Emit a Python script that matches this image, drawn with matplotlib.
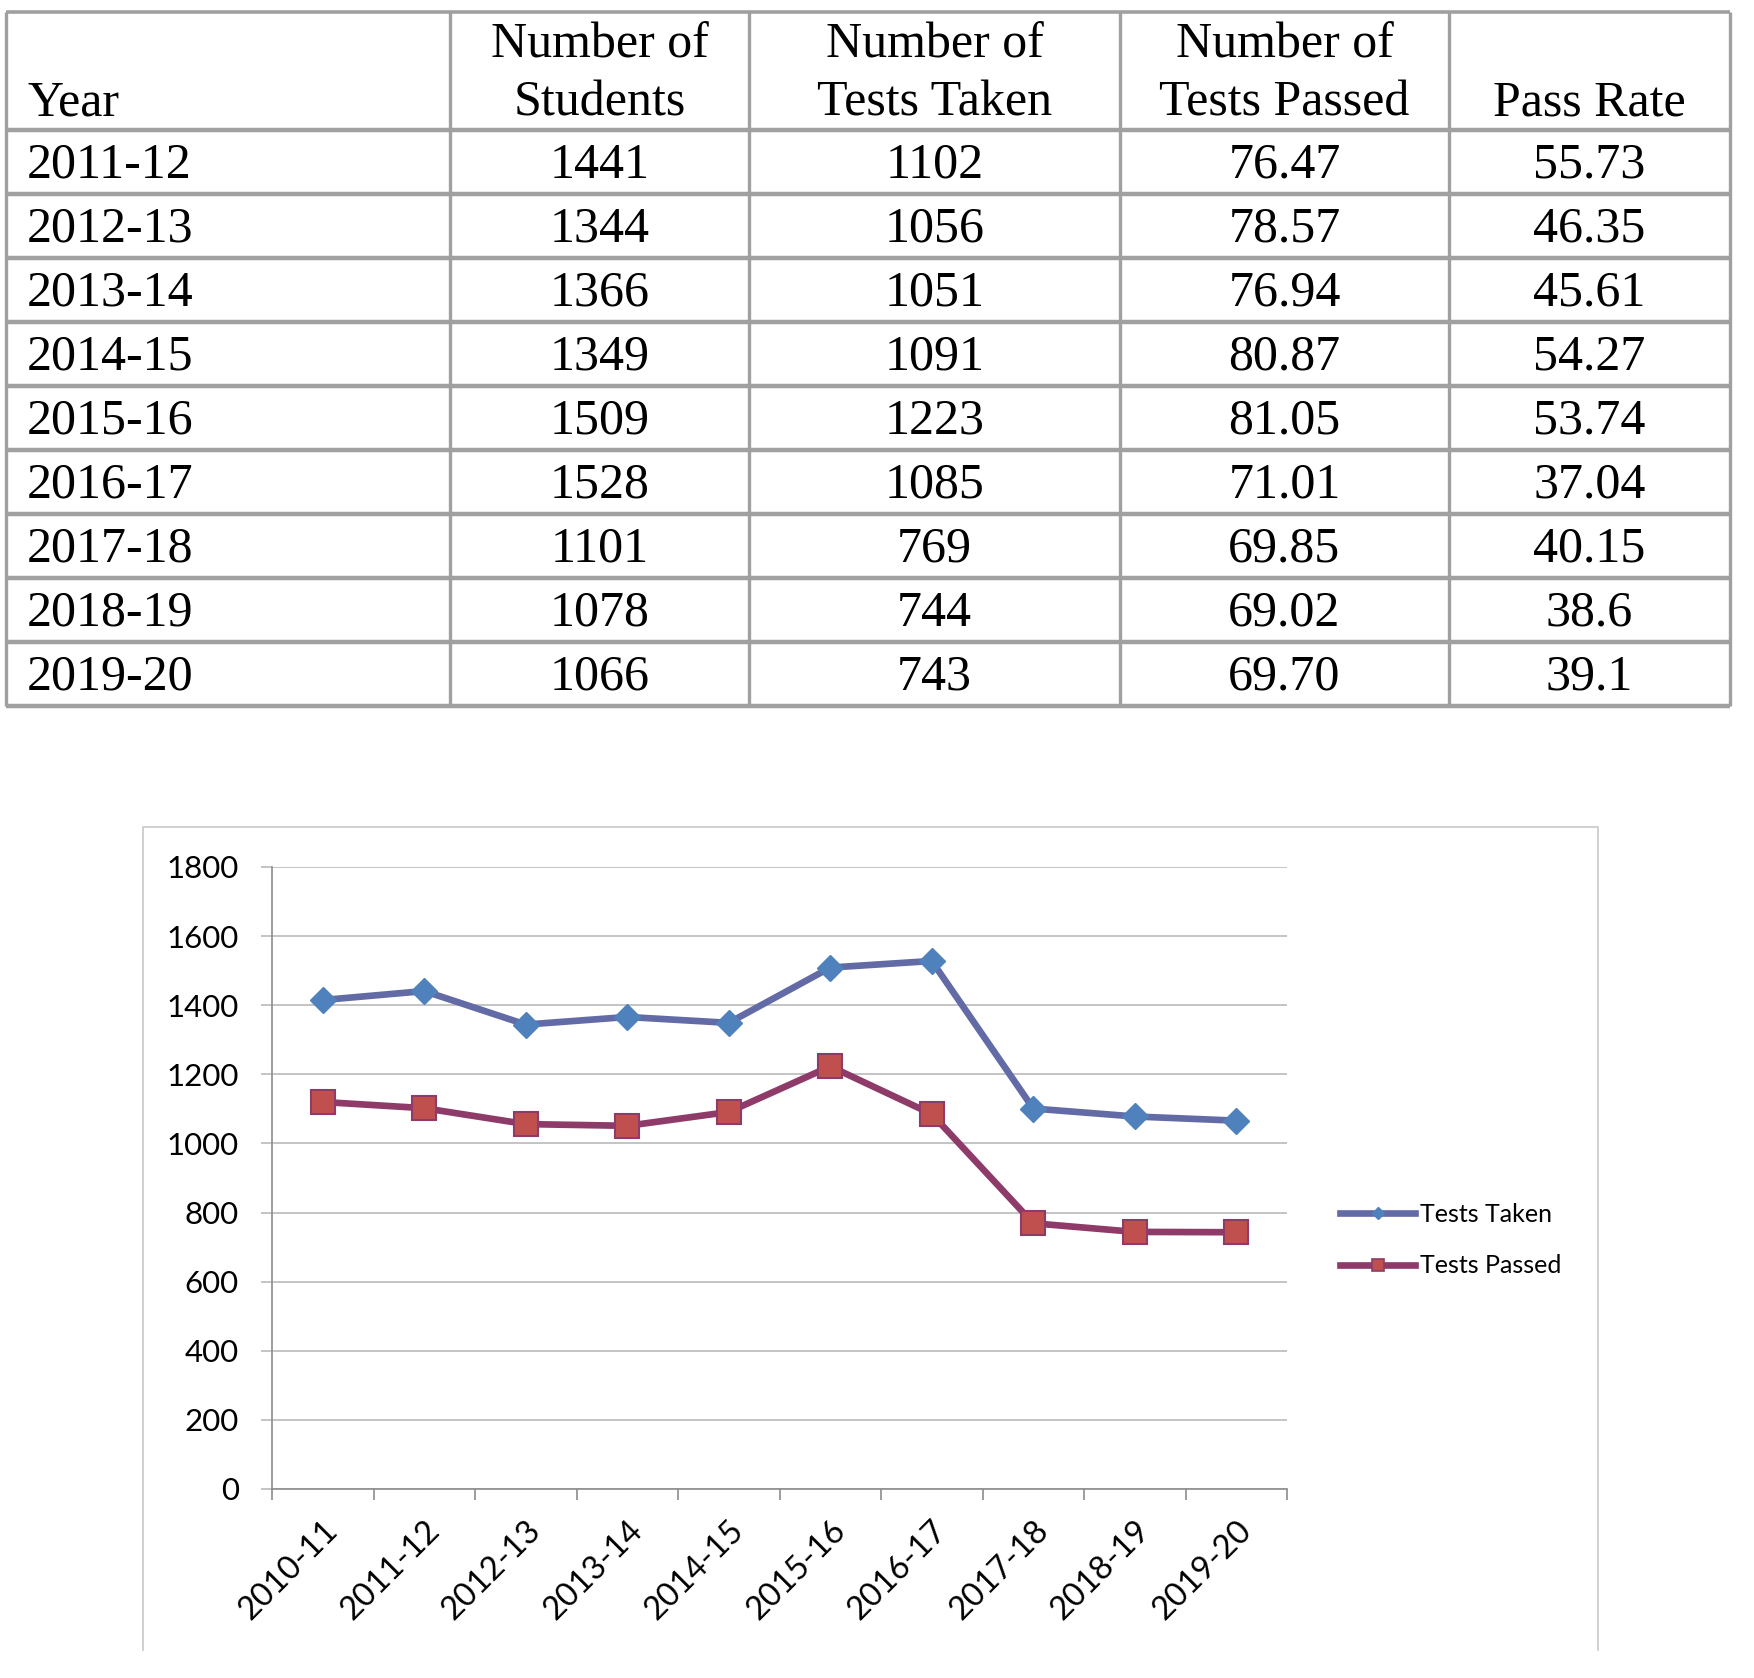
import numpy as np
import matplotlib
matplotlib.use("Agg")
import matplotlib.pyplot as plt
from matplotlib.lines import Line2D

W, H = 1754, 1678

# table data
table_years = ["2011-12", "2012-13", "2013-14", "2014-15", "2015-16",
               "2016-17", "2017-18", "2018-19", "2019-20"]
num_students = ["1441", "1344", "1366", "1349", "1509", "1528", "1101", "1078", "1066"]
num_taken = ["1102", "1056", "1051", "1091", "1223", "1085", "769", "744", "743"]
num_passed = ["76.47", "78.57", "76.94", "80.87", "81.05", "71.01", "69.85", "69.02", "69.70"]
pass_rate = ["55.73", "46.35", "45.61", "54.27", "53.74", "37.04", "40.15", "38.6", "39.1"]
headers = [["", "Year"], ["Number of", "Students"], ["Number of", "Tests Taken"],
           ["Number of", "Tests Passed"], ["", "Pass Rate"]]

# chart data
chart_years = ["2010-11", "2011-12", "2012-13", "2013-14", "2014-15",
               "2015-16", "2016-17", "2017-18", "2018-19", "2019-20"]
tests_taken = [1415, 1441, 1344, 1366, 1349, 1509, 1528, 1101, 1078, 1066]
tests_passed = [1120, 1102, 1056, 1051, 1091, 1223, 1085, 769, 744, 743]

fig = plt.figure(figsize=(W / 100, H / 100), dpi=100)

# background axes in pixel coords (for table + chart frame)
bg = fig.add_axes([0, 0, 1, 1])
bg.set_xlim(0, W)
bg.set_ylim(H, 0)
bg.axis("off")

col_x = [6, 450, 749, 1120, 1449, 1730]
top, head_bot, row_h = 12, 130, 64
n_rows = len(table_years)
bottom = head_bot + n_rows * row_h
grid_col = "#a0a0a0"

# table lines
bg.plot([col_x[0], col_x[-1]], [top, top], color=grid_col, lw=2.6, solid_capstyle="butt")
for i in range(n_rows + 1):
    y = head_bot + i * row_h
    bg.plot([col_x[0], col_x[-1]], [y, y], color=grid_col, lw=3.2, solid_capstyle="butt")
for x in col_x:
    bg.plot([x, x], [top, bottom], color=grid_col, lw=2.4, solid_capstyle="butt")

serif = "Liberation Serif"
fs = 36
for c, (l1, l2) in enumerate(headers):
    if c == 0:
        xt, ha = col_x[0] + 21, "left"
    else:
        xt, ha = (col_x[c] + col_x[c + 1]) / 2, "center"
    if l1:
        bg.text(xt, 58, l1, ha=ha, va="baseline", fontsize=fs, family=serif)
    bg.text(xt, 116, l2, ha=ha, va="baseline", fontsize=fs, family=serif)

columns = [table_years, num_students, num_taken, num_passed, pass_rate]
for c, col in enumerate(columns):
    for r, val in enumerate(col):
        yb = head_bot + r * row_h + 48
        if c == 0:
            bg.text(col_x[0] + 21, yb, val, ha="left", va="baseline", fontsize=fs, family=serif)
        else:
            xc = (col_x[c] + col_x[c + 1]) / 2
            bg.text(xc, yb, val, ha="center", va="baseline", fontsize=fs, family=serif)

# chart frame (open at the bottom, as cropped)
bg.plot([143, 143, 1598, 1598], [1650, 827, 827, 1650], color="#c8c8c8", lw=1.2)

# line chart
ax = fig.add_axes([272 / W, 1 - 1489 / H, (1287 - 272) / W, (1489 - 867) / H])
ax.patch.set_alpha(0)
x = np.arange(len(chart_years))

blue_line, blue_mk = "#636BA6", "#4F81BD"
red_line, red_mk = "#8E3B69", "#C0504D"

ax.plot(x, tests_taken, color=blue_line, lw=4.8, marker="D", ms=13,
        mfc=blue_mk, mec=blue_mk, mew=1, zorder=3)
ax.plot(x, tests_passed, color=red_line, lw=4.8, marker="s", ms=17,
        mfc=red_mk, mec=red_line, mew=1.5, zorder=3)

ax.set_xlim(-0.5, len(x) - 0.5)
ax.set_ylim(0, 1800)
ax.set_yticks(range(0, 1801, 200))
ax.yaxis.grid(True, color="#bfbfbf", lw=1.3)
ax.set_axisbelow(True)
for s in ["top", "right"]:
    ax.spines[s].set_visible(False)
for s in ["left", "bottom"]:
    ax.spines[s].set_color("#8c8c8c")
    ax.spines[s].set_linewidth(1.2)

sans = "Lato"
ax.tick_params(axis="y", length=8, width=1.3, color="#bfbfbf", pad=16, labelsize=22.5)
for lbl in ax.get_yticklabels():
    lbl.set_family(sans)

ax.set_xticks(np.arange(-0.5, len(x), 1))
ax.set_xticklabels([])
ax.tick_params(axis="x", which="major", length=8, width=1.2, color="#8c8c8c")
ax.set_xticks(x, chart_years, minor=True)
ax.tick_params(axis="x", which="minor", length=0, pad=19, labelsize=23.5)
for lbl in ax.get_xticklabels(minor=True):
    lbl.set_rotation(45)
    lbl.set_ha("right")
    lbl.set_va("top")
    lbl.set_rotation_mode("anchor")
    lbl.set_family(sans)

handles = [
    Line2D([], [], color=blue_line, lw=4.8, marker="D", ms=6.5, mfc=blue_mk, mec=blue_mk),
    Line2D([], [], color=red_line, lw=4.8, marker="s", ms=9, mfc=red_mk, mec=red_line, mew=1.2),
]
fig.legend(handles, ["Tests Taken", "Tests Passed"], loc="center left",
           bbox_to_anchor=(1340 / W, 1 - 1240 / H), frameon=False,
           prop={"family": sans, "size": 18}, handlelength=3.0,
           handletextpad=0.2, labelspacing=1.15, borderpad=0, borderaxespad=0)

fig.savefig("out.png", dpi=100, facecolor="white")
